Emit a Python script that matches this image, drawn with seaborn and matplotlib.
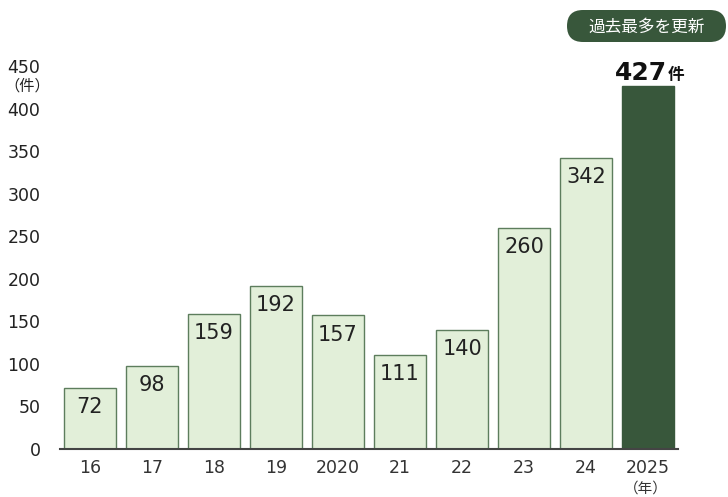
import pandas as pd
import numpy as np
import matplotlib.pyplot as plt
import matplotlib.patches as mpatches
import matplotlib.transforms as mtransforms
import seaborn as sns

# data
years = ["16", "17", "18", "19", "2020", "21", "22", "23", "24", "2025"]
counts = [72, 98, 159, 192, 157, 111, 140, 260, 342, 427]
y_ticks = [0, 50, 100, 150, 200, 250, 300, 350, 400, 450]

light_green = "#e2efd9"
dark_green = "#38573b"
edge_light = "#5d7d5d"

sns.set_theme(style="white")
plt.rcParams['font.family'] = ['DejaVu Sans', 'Noto Sans CJK JP']

df = pd.DataFrame({"year": years, "count": counts})
colors = [light_green] * (len(years) - 1) + [dark_green]
palette = dict(zip(years, colors))

fig = plt.figure(figsize=(7.28, 4.97), dpi=100)
ax = fig.add_axes([60 / 728, 1 - 449 / 497, 618 / 728, 383 / 497])

sns.barplot(data=df, x="year", y="count", hue="year", palette=palette,
            width=0.84, legend=False, ax=ax, saturation=1)

for i, bar in enumerate(ax.patches):
    bar.set_edgecolor(dark_green if i == len(years) - 1 else edge_light)
    bar.set_linewidth(1.0)

# value labels
for i, v in enumerate(counts[:-1]):
    ax.text(i, v - 23, str(v), ha="center", va="center",
            fontsize=15, color="#222222")

last = len(years) - 1
ax.text(last + 0.3, counts[-1] + 7, str(counts[-1]), ha="right",
        va="baseline", fontsize=18, fontweight="bold", color="#111111")
ax.text(last + 0.32, counts[-1] + 7, "件", ha="left", va="baseline",
        fontsize=12, fontweight="bold", color="#111111",
        family=['Noto Sans CJK JP'])

ax.set_xlim(-0.48, 9.48)
ax.set_ylim(0, 450)
ax.set_yticks(y_ticks)
ax.set_xlabel("")
ax.set_ylabel("")
ax.tick_params(axis="y", length=0, pad=14, labelsize=12.5, labelcolor="#222222")
ax.tick_params(axis="x", length=0, pad=7, labelsize=12.5, labelcolor="#333333")

sns.despine(ax=ax, left=True)
ax.spines["bottom"].set_color("#444444")
ax.spines["bottom"].set_linewidth(1.5)

# unit labels
fig.text(27 / 728, 1 - 86 / 497, "（件）", ha="center", va="center",
         fontsize=11, color="#222222", family=['Noto Sans CJK JP'])
fig.text(646 / 728, 1 - 489 / 497, "（年）", ha="center", va="center",
         fontsize=10.5, color="#333333", family=['Noto Sans CJK JP'])

# badge
badge = mpatches.FancyBboxPatch((567, 455), 159, 32,
                                boxstyle="round,pad=0,rounding_size=16",
                                transform=mtransforms.IdentityTransform(),
                                facecolor=dark_green, edgecolor="none")
fig.patches.append(badge)
fig.text(646.5 / 728, 1 - 27 / 497, "過去最多を更新", ha="center", va="center",
         fontsize=12, color="white", family=['Noto Sans CJK JP'])

fig.savefig("out.png", dpi=100)
